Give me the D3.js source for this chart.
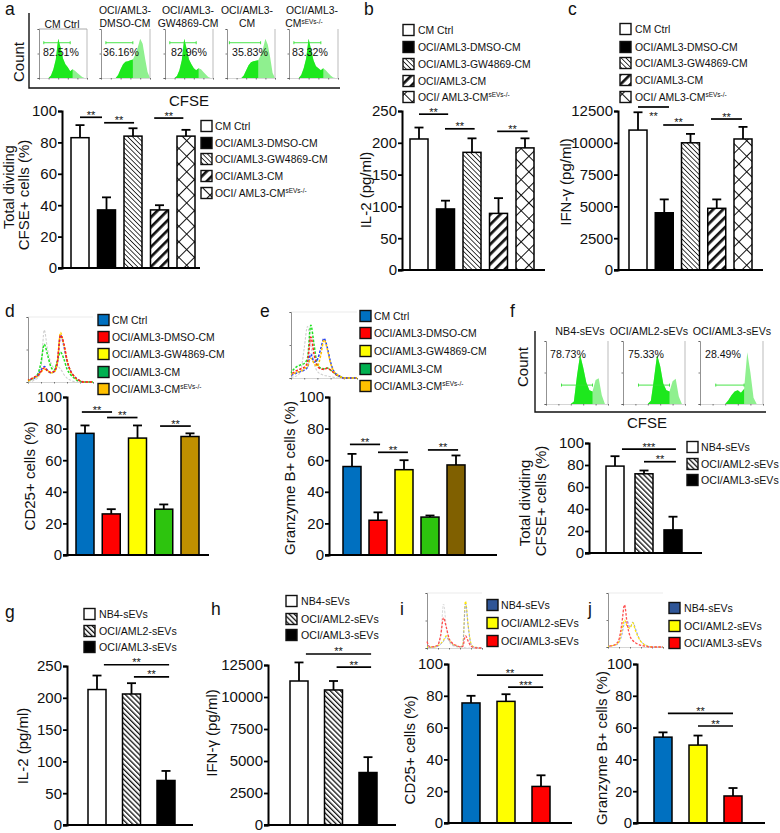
<!DOCTYPE html>
<html>
<head>
  <meta charset="utf-8">
  <script src="https://d3js.org/d3.v7.min.js"></script>
  <style>
    body { margin: 0; background: #fff; }
    text { font-family: "Liberation Sans", Arial, sans-serif; fill: #111; }
  </style>
</head>
<body>
<script>
// legend names
var cmNames = ["CM Ctrl", "OCI/AML3-DMSO-CM", "OCI/AML3-GW4869-CM", "OCI/AML3-CM", "OCI/AML3-CM"];
var cmNamesGap = ["CM Ctrl", "OCI/AML3-DMSO-CM", "OCI/AML3-GW4869-CM", "OCI/AML3-CM", "OCI/ AML3-CM"];
var evNames = ["NB4-sEVs", "OCI/AML2-sEVs", "OCI/AML3-sEVs"];

// bar means and top of the error bar
var aMeans = [83, 37, 84, 37, 84],            aTops = [91, 45, 89, 40, 88];
var bMeans = [206, 96, 185, 89, 192],         bTops = [224, 109, 207, 113, 207];
var cMeans = [11000, 4500, 10000, 4850, 10300], cTops = [12400, 5550, 10700, 5550, 11250];
var dMeans = [77, 26, 74, 29, 75],            dTops = [82, 29, 82, 32, 77];
var eMeans = [56, 22, 54, 24, 57],            eTops = [64, 27, 60, 25, 63];
var fMeans = [79, 72, 21],                    fTops = [88, 75, 33];
var gMeans = [213, 206, 70],                  gTops = [235, 223, 85];
var hMeans = [11250, 10550, 4100],            hTops = [12700, 11250, 5300];
var iMeans = [75.5, 76.5, 23],                iTops = [80, 81, 30];
var jMeans = [54, 49, 17],                    jTops = [57, 55, 22];

// significance brackets: from bar, to bar, value, label
var aSig = [[0, 0.83, 96, "**"], [0.91, 2.04, 92.5, "**"], [2.8, 3.9, 95.5, "**"]];
var bSig = [[0, 1.1, 245, "**"], [0.98, 2.1, 222, "**"], [2.95, 4.1, 218, "**"]];
var cSig = [[0, 1.18, 12815, "**"], [0.96, 2.13, 11400, "**"], [2.78, 3.96, 11870, "**"]];
var dSig = [[-0.12, 1.03, 90.5, "**"], [0.84, 2, 87, "**"], [2.86, 4.03, 81.6, "**"]];
var eSig = [[-0.08, 1.08, 70, "**"], [1, 2.15, 65, "**"], [2.92, 4.08, 66.5, "**"]];
var fSig = [[0.24, 2.1, 94.5, "***"], [1, 2.1, 83, "**"]];
var gSig = [[0.2, 2.09, 252, "**"], [1.07, 2.09, 233, "**"]];
var hSig = [[0.2, 2.09, 13360, "**"], [1.09, 2.09, 12340, "**"]];
var iSig = [[0.17, 2.06, 93, "**"], [1.06, 2.06, 85.5, "***"]];
var jSig = [[0.14, 2, 69, "**"], [1, 2, 61, "**"]];

var pctTicks = [0, 20, 40, 60, 80, 100];
var il2Ticks = [0, 50, 100, 150, 200, 250];
var ifnTicks = [0, 2500, 5000, 7500, 10000, 12500];

// CFSE histograms, 21 bins
var flowCtrl  = [0,0,0,0,0,5,18,38,80,62,40,28,22,14,18,15,10,6,2,0,0];
var flowDmso  = [0,0,0,0,0,0,0,6,18,28,33,34,36,38,48,62,80,70,40,12,0];
var flowGw    = [0,0,0,0,0,4,16,36,80,60,38,28,20,16,20,18,12,7,2,0,0];
var flowCm    = [0,0,0,0,0,0,0,5,16,26,32,34,35,36,46,60,80,68,42,10,0];
var flowEvs   = [0,0,0,0,0,6,20,40,80,58,36,24,20,16,20,16,10,5,1,0,0];
var flowNb4   = [0,0,0,0,0,0,0,0,0,4,45,78,58,34,22,20,38,41,14,0,0];
var flowAml2  = [0,0,0,0,0,0,0,0,0,5,40,78,60,32,22,20,36,40,12,0,0];
var flowAml3  = [0,0,0,0,0,0,0,0,0,6,14,20,22,18,24,82,50,10,0,0,0];

// overlay histograms, 21 bins
var cd25Grey   = [0,1,3,6,20,80,50,30,22,24,20,12,6,3,1,0,0,0,0,0,0];
var cd25Green  = [2,4,7,12,30,58,42,24,18,32,46,36,20,12,7,3,1,0,0,0,0];
var cd25Blue   = [2,4,6,10,18,24,18,14,16,28,72,56,32,18,10,5,2,0,0,0,0];
var cd25Red    = [3,5,8,10,16,22,17,15,16,30,72,60,34,18,10,5,2,0,0,0,0];
var cd25Yellow = [2,4,7,9,15,20,18,14,15,28,76,58,34,17,10,4,2,0,0,0,0];
var gzGrey   = [1,2,4,12,45,78,50,22,10,6,4,3,2,1,0,0,0,0,0,0,0];
var gzGreen  = [8,14,18,20,22,30,80,50,20,15,14,15,12,8,4,2,0,0,0,0,0];
var gzRed    = [6,9,12,14,16,24,62,36,18,14,13,15,12,8,4,2,0,0,0,0,0];
var gzBlue   = [4,6,8,10,12,16,36,24,28,44,60,46,24,10,5,2,0,0,0,0,0];
var gzYellow = [5,7,9,10,14,18,30,22,18,34,58,44,22,10,5,2,0,0,0,0,0];
var evCdGrey   = [1,1,2,3,6,22,80,40,12,5,3,2,2,1,1,0,0,0,0,0,0];
var evCdRed    = [12,2,2,3,6,24,55,38,18,10,6,4,2,3,22,12,3,1,0,0,0];
var evCdYellow = [1,1,2,2,4,8,14,22,14,8,5,3,2,5,85,40,8,2,1,0,0];
var evCdBlue   = [1,1,2,2,3,7,12,20,13,7,4,3,2,4,80,38,7,2,1,0,0];
var evGzRed    = [1,2,3,6,14,42,78,42,20,12,8,5,3,2,1,0,0,0,0,0,0];
var evGzYellow = [1,2,3,5,10,30,50,38,35,45,30,18,10,5,2,1,0,0,0,0,0];
var evGzBlue   = [1,2,3,4,8,22,44,48,36,46,34,20,10,6,3,1,0,0,0,0,0];

var svg = d3.select("body").append("svg")
  .attr("width", 780).attr("height", 833);
svg.append("rect").attr("width", 780).attr("height", 833).attr("fill", "#fff");

// bar fills
var defs = svg.append("defs");
function hatch(id, size, angle, lines, w) {
  var p = defs.append("pattern").attr("id", id).attr("patternUnits", "userSpaceOnUse")
    .attr("width", size).attr("height", size)
    .attr("patternTransform", "rotate(" + angle + ")");
  p.append("rect").attr("width", size).attr("height", size).attr("fill", "#fff");
  lines.forEach(function (l) {
    p.append("line").attr("x1", l[0]).attr("y1", l[1]).attr("x2", l[2]).attr("y2", l[3])
      .attr("stroke", "#111").attr("stroke-width", w);
  });
}
hatch("thin", 3.4, -45, [[0, 0, 0, 3.4]], 1.6);
hatch("heavy", 3.6, -45, [[0, 0, 0, 3.6]], 2.6);
hatch("stripe", 7, 45, [[0, 0, 0, 7]], 5.4);
hatch("lattice", 11, 45, [[0, 0, 0, 11], [0, 0, 11, 0]], 2);

var bwFills = ["#fff", "#000", "url(#thin)", "url(#stripe)", "url(#lattice)"];
var evFills = ["#fff", "url(#heavy)", "#000"];
var dBars = ["#0070c0", "#ff0000", "#ffff00", "#2dc40e", "#bf9000"];
var eBars = ["#0070c0", "#ff0000", "#ffff00", "#2dc40e", "#806000"];
var colorKeys = ["#0070c0", "#ff0000", "#ffff00", "#00b050", "#ffc000"];
var evBars = ["#0070c0", "#ffff00", "#ff0000"];
var evKeys = ["#2f5597", "#ffff00", "#ff0000"];

function label(str, x, y, size, anchor) {
  return svg.append("text").attr("x", x).attr("y", y)
    .attr("font-size", size).attr("text-anchor", anchor || "start").text(str);
}

function vlabel(str, x, y, size) {
  return svg.append("text").attr("transform", "translate(" + x + "," + y + ") rotate(-90)")
    .attr("font-size", size).attr("text-anchor", "middle").text(str);
}

// one bar panel: axes, bars, error bars, brackets
function barPanel(o) {
  var g = svg.append("g");
  var x = d3.scaleLinear().domain([0, o.means.length - 1]).range([o.first, o.last]);
  var y = d3.scaleLinear().domain([0, o.ticks[o.ticks.length - 1]]).range([o.y0, o.y1]);
  var bw = 18;

  g.selectAll("rect.bar").data(o.means).enter().append("rect").attr("class", "bar")
    .attr("x", function (d, i) { return x(i) - bw / 2; })
    .attr("y", function (d) { return y(d); })
    .attr("width", bw)
    .attr("height", function (d) { return o.y0 - y(d); })
    .attr("fill", function (d, i) { return o.fills[i]; })
    .attr("stroke", "#000").attr("stroke-width", 1.5);

  // only the upper half of each error bar
  o.tops.forEach(function (t, i) {
    g.append("line").attr("x1", x(i)).attr("x2", x(i))
      .attr("y1", y(o.means[i])).attr("y2", y(t))
      .attr("stroke", "#000").attr("stroke-width", 1.8);
    g.append("line").attr("x1", x(i) - 4.5).attr("x2", x(i) + 4.5)
      .attr("y1", y(t)).attr("y2", y(t))
      .attr("stroke", "#000").attr("stroke-width", 1.8);
  });

  o.sig.forEach(function (s, i) {
    g.append("line").attr("x1", x(s[0])).attr("x2", x(s[1]))
      .attr("y1", y(s[2])).attr("y2", y(s[2]))
      .attr("stroke", "#000").attr("stroke-width", 1.7);
    var below = o.labelBelow === i;
    g.append("text").attr("x", (x(s[0]) + x(s[1])) / 2).attr("y", y(s[2]) + (below ? 13 : 1.5))
      .attr("font-size", 11).attr("text-anchor", "middle").text(s[3]);
  });

  var yAxis = d3.axisLeft(y).tickValues(o.ticks).tickSize(4).tickPadding(1).tickFormat(d3.format("d"));
  var ga = g.append("g").attr("transform", "translate(" + o.axisX + ",0)").call(yAxis);
  ga.selectAll("path").attr("stroke", "#000").attr("stroke-width", 2);
  ga.selectAll("line").attr("stroke", "#000").attr("stroke-width", 1.8);
  ga.selectAll("text").attr("font-size", 15).attr("font-family", "Liberation Sans").attr("fill", "#111");

  g.append("line").attr("x1", o.axisX - 4).attr("x2", o.axisEnd)
    .attr("y1", o.y0).attr("y2", o.y0).attr("stroke", "#000").attr("stroke-width", 2);
}

function legend(names, fills, x, ys, textX, size, sup) {
  names.forEach(function (n, i) {
    svg.append("rect").attr("x", x).attr("y", ys[i] - 5.5).attr("width", 11).attr("height", 11)
      .attr("fill", fills[i]).attr("stroke", "#111").attr("stroke-width", 1.4);
    var t = label(n, textX, ys[i] + 3.6, size);
    if (sup && i === names.length - 1) {
      t.append("tspan").attr("dy", -3.5).attr("font-size", 6.5).text("sEVs-/-");
    }
  });
}

// filled CFSE histogram with the undivided part in the pale green
function flowPlot(b, bins, split, gate, pct, pctX, pctY, topLine) {
  var x = d3.scaleLinear().domain([0, 20]).range([b[0], b[1]]);
  var y = d3.scaleLinear().domain([0, 100]).range([b[3], b[2]]);
  var area = d3.area().x(function (d, i) { return x(i); }).y0(y(0)).y1(function (d) { return y(d); });
  var g = svg.append("g");
  g.append("path").attr("d", area(bins)).attr("fill", "#8ff08f");
  g.append("path").attr("d", area(bins.slice(0, split + 1))).attr("fill", "#1de81d");
  g.append("line").attr("x1", b[1]).attr("x2", b[1]).attr("y1", b[2]).attr("y2", b[3])
    .attr("stroke", "#bbb").attr("stroke-width", 1);
  if (topLine) {
    g.append("line").attr("x1", b[0]).attr("x2", b[1]).attr("y1", b[2]).attr("y2", b[2])
      .attr("stroke", "#aaa").attr("stroke-width", 1);
  }
  flowAxes(g, x, y, b);
  g.append("path")
    .attr("d", "M" + x(gate[0]) + "," + (y(gate[2]) - 1.5) + "v3m0,-1.5H" + x(gate[1]) + "m0,-1.5v3")
    .attr("fill", "none").attr("stroke", "#35e035").attr("stroke-width", 0.9);
  label(pct, pctX, pctY, 10.6);
}

function flowAxes(g, x, y, b) {
  var ya = g.append("g").attr("transform", "translate(" + b[0] + ",0)")
    .call(d3.axisLeft(y).tickValues([0, 50, 100]).tickSize(1.5).tickFormat(""));
  var xa = g.append("g").attr("transform", "translate(0," + b[3] + ")")
    .call(d3.axisBottom(x).tickValues([0, 4, 8, 12, 16, 20]).tickSize(1.5).tickFormat(""));
  ya.selectAll("path").attr("stroke", "#777").attr("stroke-width", 0.8);
  ya.selectAll("line").attr("stroke", "#555").attr("stroke-width", 0.8);
  xa.selectAll("path").attr("stroke", "#bbb").attr("stroke-width", 0.6);
  xa.selectAll("line").attr("stroke", "#555").attr("stroke-width", 0.8);
}

// overlay of dashed histogram traces
function overlay(b, series) {
  var x = d3.scaleLinear().domain([0, 20]).range([b[0], b[1]]);
  var y = d3.scaleLinear().domain([0, 100]).range([b[3], b[2]]);
  var line = d3.line().x(function (d, i) { return x(i); }).y(function (d) { return y(d); }).curve(d3.curveMonotoneX);
  var g = svg.append("g");
  g.append("path").attr("d", "M" + b[0] + "," + b[2] + "H" + b[1]).attr("stroke", "#ddd").attr("stroke-width", 0.6);
  flowAxes(g, x, y, b);
  series.forEach(function (s, i) {
    g.append("path").attr("d", line(s[0])).attr("fill", "none")
      .attr("stroke", s[1]).attr("stroke-width", s[2] || 1.5)
      .attr("stroke-dasharray", "2.5,1.5")
      .attr("stroke-dashoffset", i * 1.3);
  });
}

function frame(x, y0, y1, x1) {
  svg.append("path").attr("d", "M" + x + "," + y0 + "V" + y1 + "H" + x1)
    .attr("fill", "none").attr("stroke", "#111").attr("stroke-width", 1.4);
}

// panel letters
[["a", 5, 15], ["b", 364, 15], ["c", 568, 15], ["d", 5, 317], ["e", 260, 317],
 ["f", 510, 317], ["g", 5, 618], ["h", 211, 615], ["i", 400, 615], ["j", 588, 615]]
  .forEach(function (p) { label(p[0], p[1], p[2], 17.5); });

// panel a
frame(29, 13, 88, 340);
vlabel("Count", 24, 62, 15);
label("CFSE", 189, 106, 15, "middle");
label("CM Ctrl", 62, 28, 10.4, "middle");
label("OCI/AML3-", 125, 14, 10.4, "middle");
label("DMSO-CM", 125, 27, 10.4, "middle");
label("OCI/AML3-", 188, 14, 10.4, "middle");
label("GW4869-CM", 188, 27, 10.4, "middle");
label("OCI/AML3-", 247, 14, 10.4, "middle");
label("CM", 247, 27, 10.4, "middle");
label("OCI/AML3-", 312, 14, 10.4, "middle");
label("CM", 304, 27, 10.4, "middle").append("tspan").attr("dy", -3.5).attr("font-size", 6.5).text("sEVs-/-");
flowPlot([39, 87, 29, 78], flowCtrl, 14, [2, 13, 72], "82.51%", 43, 56, true);
flowPlot([101, 150, 29, 78], flowDmso, 13, [2, 13, 72], "36.16%", 103, 56);
flowPlot([165, 213, 29, 78], flowGw, 14, [2, 13, 72], "82.96%", 171, 56);
flowPlot([227, 275, 29, 78], flowCm, 13, [1, 14, 72], "35.83%", 232, 56);
flowPlot([289, 338, 29, 78], flowEvs, 14, [2, 13, 72], "83.32%", 292, 56);

barPanel({ means: aMeans, tops: aTops, sig: aSig, ticks: pctTicks, fills: bwFills,
  first: 80, last: 186, axisX: 62, axisEnd: 200, y0: 268, y1: 111 });
vlabel("Total dividing", 13.5, 187, 14.5);
vlabel("CFSE+ cells (%)", 29, 195, 15);
legend(cmNamesGap, bwFills, 201, [126, 143, 159, 176, 193], 215, 10.4, true);

// panel b
barPanel({ means: bMeans, tops: bTops, sig: bSig, ticks: il2Ticks, fills: bwFills,
  first: 419, last: 525, axisX: 402, axisEnd: 545, y0: 270, y1: 111 });
vlabel("IL-2 (pg/ml)", 371, 190, 15);
legend(cmNamesGap, bwFills, 403, [30, 47, 64, 81, 97], 418, 10.4, true);

// panel c
barPanel({ means: cMeans, tops: cTops, sig: cSig, ticks: ifnTicks, fills: bwFills, labelBelow: 0,
  first: 638, last: 743, axisX: 618, axisEnd: 763, y0: 270, y1: 111 });
vlabel("IFN-γ (pg/ml)", 571, 182, 15);
legend(cmNamesGap, bwFills, 620, [29, 47, 63, 80, 97], 635, 10.4, true);

// panel d
overlay([28, 93, 317, 382], [[cd25Grey, "#cfcfcf", 1.1], [cd25Green, "#22e022"],
  [cd25Blue, "#2040ff"], [cd25Yellow, "#ffd000"], [cd25Red, "#ff2020"]]);
barPanel({ means: dMeans, tops: dTops, sig: dSig, ticks: pctTicks, fills: dBars,
  first: 85, last: 190, axisX: 67, axisEnd: 209, y0: 555, y1: 397 });
vlabel("CD25+ cells (%)", 35, 476, 15);
legend(cmNames, colorKeys, 98, [320, 337, 354, 372, 389], 112, 10.4, true);

// panel e
overlay([291, 357, 312, 378], [[gzGrey, "#cfcfcf", 1.1], [gzGreen, "#22e022"],
  [gzRed, "#ff2020"], [gzBlue, "#2040ff"], [gzYellow, "#ffc000"]]);
barPanel({ means: eMeans, tops: eTops, sig: eSig, ticks: pctTicks, fills: eBars,
  first: 352, last: 456, axisX: 329, axisEnd: 497, y0: 555, y1: 397 });
vlabel("Granzyme B+ cells (%)", 295, 478, 15);
legend(cmNames, colorKeys, 360, [316, 333, 351, 369, 386], 374, 10.4, true);

// panel f
frame(535, 331, 412, 766);
vlabel("Count", 528, 367, 15);
label("CFSE", 647, 428, 15, "middle");
label("NB4-sEVs", 580, 335, 10.7, "middle");
label("OCI/AML2-sEVs", 649, 335, 10.7, "middle");
label("OCI/AML3-sEVs", 732, 335, 10.7, "middle");
flowPlot([546, 608, 341, 404], flowNb4, 15, [5, 15, 30], "78.73%", 550, 358);
flowPlot([623, 685, 341, 404], flowAml2, 15, [5, 15, 30], "75.33%", 628, 358);
flowPlot([700, 763, 341, 404], flowAml3, 14, [5, 14, 30], "28.49%", 705, 358);
barPanel({ means: fMeans, tops: fTops, sig: fSig, ticks: pctTicks, fills: evFills,
  first: 615, last: 673, axisX: 589, axisEnd: 702, y0: 553, y1: 443 });
vlabel("Total dividing", 530, 503, 15);
vlabel("CFSE+ cells (%)", 546, 501, 15);
legend(evNames, evFills, 687, [447, 464, 480], 701, 10.6);

// panel g
barPanel({ means: gMeans, tops: gTops, sig: gSig, ticks: il2Ticks, fills: evFills,
  first: 97, last: 166, axisX: 67, axisEnd: 193, y0: 825, y1: 666 });
vlabel("IL-2 (pg/ml)", 28, 746, 15);
legend(evNames, evFills, 84, [614, 631, 647], 99, 10.6);

// panel h
barPanel({ means: hMeans, tops: hTops, sig: hSig, ticks: ifnTicks, fills: evFills,
  first: 299, last: 368, axisX: 268, axisEnd: 396, y0: 825, y1: 665 });
vlabel("IFN-γ (pg/ml)", 217, 733, 15);
legend(evNames, evFills, 286, [601, 619, 635], 301, 10.6);

// panel i
overlay([427, 482, 593, 648], [[evCdGrey, "#d8d8d8", 1], [evCdYellow, "#ffe800", 1.2], [evCdBlue, "#8090ff", 0.8], [evCdRed, "#ff5050", 1.3]]);
barPanel({ means: iMeans, tops: iTops, sig: iSig, ticks: pctTicks, fills: evBars,
  first: 471, last: 541, axisX: 448, axisEnd: 572, y0: 823, y1: 664 });
vlabel("CD25+ cells (%)", 415, 750, 15);
legend(evNames, evKeys, 487, [605, 623, 641], 501, 10.6);

// panel j
overlay([608, 663, 593, 647], [[evGzBlue, "#8090ff", 1], [evGzYellow, "#ffe800", 1.2], [evGzRed, "#ff5050", 1.3]]);
barPanel({ means: jMeans, tops: jTops, sig: jSig, ticks: pctTicks, fills: evBars,
  first: 663, last: 733, axisX: 637, axisEnd: 765, y0: 823, y1: 664 });
vlabel("Granzyme B+ cells (%)", 607, 748, 15);
legend(evNames, evKeys, 669, [608, 626, 643], 684, 10.6);
</script>
</body>
</html>
